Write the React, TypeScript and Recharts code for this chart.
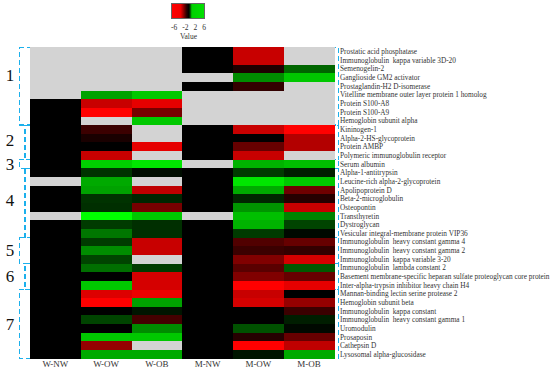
import { BarChart, Bar, XAxis, YAxis, Cell, ReferenceArea } from "recharts";

const groups = ["W-NW", "W-OW", "W-OB", "M-NW", "M-OW", "M-OB"];

const proteins = [
  "Prostatic acid phosphatase",
  "Immunoglobulin  kappa variable 3D-20",
  "Semenogelin-2",
  "Ganglioside GM2 activator",
  "Prostaglandin-H2 D-isomerase",
  "Vitelline membrane outer layer protein 1 homolog",
  "Protein S100-A8",
  "Protein S100-A9",
  "Hemoglobin subunit alpha",
  "Kininogen-1",
  "Alpha-2-HS-glycoprotein",
  "Protein AMBP",
  "Polymeric immunoglobulin receptor",
  "Serum albumin",
  "Alpha-1-antitrypsin",
  "Leucine-rich alpha-2-glycoprotein",
  "Apolipoprotein D",
  "Beta-2-microglobulin",
  "Osteopontin",
  "Transthyretin",
  "Dystroglycan",
  "Vesicular integral-membrane protein VIP36",
  "Immunoglobulin  heavy constant gamma 4",
  "Immunoglobulin  heavy constant gamma 2",
  "Immunoglobulin  kappa variable 3-20",
  "Immunoglobulin  lambda constant 2",
  "Basement membrane-specific heparan sulfate proteoglycan core protein",
  "Inter-alpha-trypsin inhibitor heavy chain H4",
  "Mannan-binding lectin serine protease 2",
  "Hemoglobin subunit beta",
  "Immunoglobulin  kappa constant",
  "Immunoglobulin  heavy constant gamma 1",
  "Uromodulin",
  "Prosaposin",
  "Cathepsin D",
  "Lysosomal alpha-glucosidase",
];

// log2 fold change per group, null = not detected (grey)
const wNW = [null, null, null, null, null, null, 0, 0, 0, 0, 0, 0, 0, 0, 0, null, 0, 0, 0, null, 0, 0, 0, 0, 0, 0, 0, 0, 0, 0, 0, 0, 0, 0, 0, 0];
const wOW = [null, null, null, null, null, 3.8, -4.7, -6, null, -1.4, -0.6, 0, -4.7, 4.9, 1.2, 4.0, 3.8, 1.2, 1.1, 6, 1.4, 2.8, 1.4, 3.3, 1.6, 2.6, 0, 4.7, -5.2, -6, 0, 1.6, 0, 4.7, -3.5, 4.0];
const wOB = [null, null, null, null, null, 4.7, -5.4, -2.8, 4.7, null, null, -5.4, null, 5.4, 0.3, null, -4.5, 0.9, -2.8, 4.7, 1.1, 1.1, -4.7, -4.7, null, 1.4, -5.0, -5.0, -5.6, 3.8, 0.5, -1.6, 3.3, 4.7, null, 4.0];
const mNW = [0, 0, 0, null, 0, null, null, null, null, 0, 0, 0, 0, null, 0, 0, 0, 0, 0, null, 0, 0, 0, 0, 0, 0, 0, 0, 0, 0, 0, 0, 0, 0, 0, 0];
const mOW = [-4.7, -4.7, -0.7, 3.3, -1.2, null, null, null, null, -4.7, 0, -2.4, -4.7, 4.2, 1.4, 5.4, 4.0, 0.9, 3.5, 4.5, 4.2, 1.4, -1.9, -1.4, -3.0, -2.1, -3.0, -6, -4.7, -5.0, 0, 0, 1.9, -0.9, -6, 0.5];
const mOB = [null, null, 2.4, 4.7, null, null, null, null, null, -6, -4.2, -4.2, null, 4.5, 0.7, 4.7, -2.6, -0.9, -4.7, 3.1, 1.6, 0.2, -2.4, -1.2, -5.0, 2.1, -2.4, -5.4, 0, -3.5, -1.4, 0.7, 0.2, -2.4, -4.5, 4.0];

const columns = [wNW, wOW, wOB, mNW, mOW, mOB];

const clusters = [
  { label: "1", from: 0, to: 8 },
  { label: "2", from: 9, to: 12 },
  { label: "3", from: 13, to: 13 },
  { label: "4", from: 14, to: 21 },
  { label: "5", from: 22, to: 24 },
  { label: "6", from: 25, to: 27 },
  { label: "7", from: 28, to: 35 },
];

const chartData = proteins.map((name) => {
  const row: Record<string, string | number> = { name };
  groups.forEach((g) => (row[g] = 1));
  return row;
});

const cellColor = (v: number | null) => {
  if (v === null) return "#d3d3d3";
  const c = Math.round(Math.min(1, Math.abs(v) / 6) * 255);
  return v < 0 ? `rgb(${c},0,0)` : `rgb(0,${c},0)`;
};

const serif = "'Liberation Serif', 'Times New Roman', serif";

const ProteinTick = (props: any) => (
  <text
    x={props.x}
    y={props.y}
    dy="0.35em"
    textAnchor="start"
    fontSize={7.3}
    fontFamily={serif}
    fill="#333"
    style={{ whiteSpace: "pre" }}
  >
    {props.payload.value}
  </text>
);

const clusterLabel = (text: string, dy: number) => (props: any) => {
  const vb = props.viewBox;
  return (
    <text
      x={10}
      y={vb.y + vb.height / 2 + dy}
      textAnchor="middle"
      dominantBaseline="central"
      fontSize={17}
      fontFamily={serif}
      fill="#111"
    >
      {text}
    </text>
  );
};

export default function App() {
  return (
    <div style={wrapStyle}>
      <div style={legendStyle}>
        <div style={barStyle} />
        <div style={legendTicks}>
          <span>-6</span>
          <span>-2</span>
          <span>2</span>
          <span>6</span>
        </div>
        <div style={legendTitle}>Value</div>
      </div>
      <BarChart
        width={550}
        height={372}
        data={chartData}
        layout="vertical"
        barCategoryGap={0}
        barGap={0}
        margin={{ top: 47.3, right: 0, bottom: 0, left: 30 }}
        style={{ shapeRendering: "crispEdges" }}
      >
        <XAxis
          type="number"
          domain={[0, 6]}
          ticks={[0.5, 1.5, 2.5, 3.5, 4.5, 5.5]}
          tickFormatter={(v: number) => groups[Math.floor(v)]}
          axisLine={false}
          tickLine={false}
          tickSize={0}
          tickMargin={2}
          height={13.3}
          tick={{ fill: "#333", fontSize: 9, fontFamily: serif }}
        />
        <YAxis
          type="category"
          dataKey="name"
          orientation="right"
          width={215.5}
          interval={0}
          axisLine={false}
          tickLine={false}
          tickSize={0}
          tickMargin={5.5}
          tick={<ProteinTick />}
        />
        {groups.map((g, col) => (
          <Bar key={g} dataKey={g} stackId="h" isAnimationActive={false}>
            {proteins.map((p, row) => (
              <Cell key={p} fill={cellColor(columns[col][row])} />
            ))}
          </Bar>
        ))}
        {clusters.map((c, i) => (
          <ReferenceArea
            key={c.label}
            x1={i % 2 === 0 ? -0.21 : -0.1}
            x2={6.08}
            y1={proteins[c.from]}
            y2={proteins[c.to]}
            ifOverflow="visible"
            fill="none"
            stroke="#1cb0ec"
            strokeWidth={1.3}
            strokeDasharray="5 3"
            label={clusterLabel(c.label, c.label === "1" ? -11 : c.label === "2" ? -2 : c.label === "4" ? -3 : 0)}
          />
        ))}
      </BarChart>
    </div>
  );
}

const wrapStyle: React.CSSProperties = {
  position: "absolute",
  left: 0,
  top: 0,
  width: 550,
  height: 372,
  background: "#ffffff",
};

const legendStyle: React.CSSProperties = {
  position: "absolute",
  left: 171,
  top: 3,
  width: 35,
  fontFamily: serif,
  color: "#333",
};

const barStyle: React.CSSProperties = {
  width: 34,
  height: 16,
  background:
    "linear-gradient(to right, #ff0000 0%, #f00000 27%, #300000 45%, #000000 52%, #003000 56%, #00d000 62%, #00e000 100%)",
  border: "1px solid #666",
  boxSizing: "border-box",
};

const legendTicks: React.CSSProperties = {
  display: "flex",
  justifyContent: "space-between",
  fontSize: 7.5,
  marginTop: 4,
  lineHeight: "9px",
};

const legendTitle: React.CSSProperties = {
  textAlign: "center",
  fontSize: 7.5,
  marginTop: 0,
  lineHeight: "9px",
};
